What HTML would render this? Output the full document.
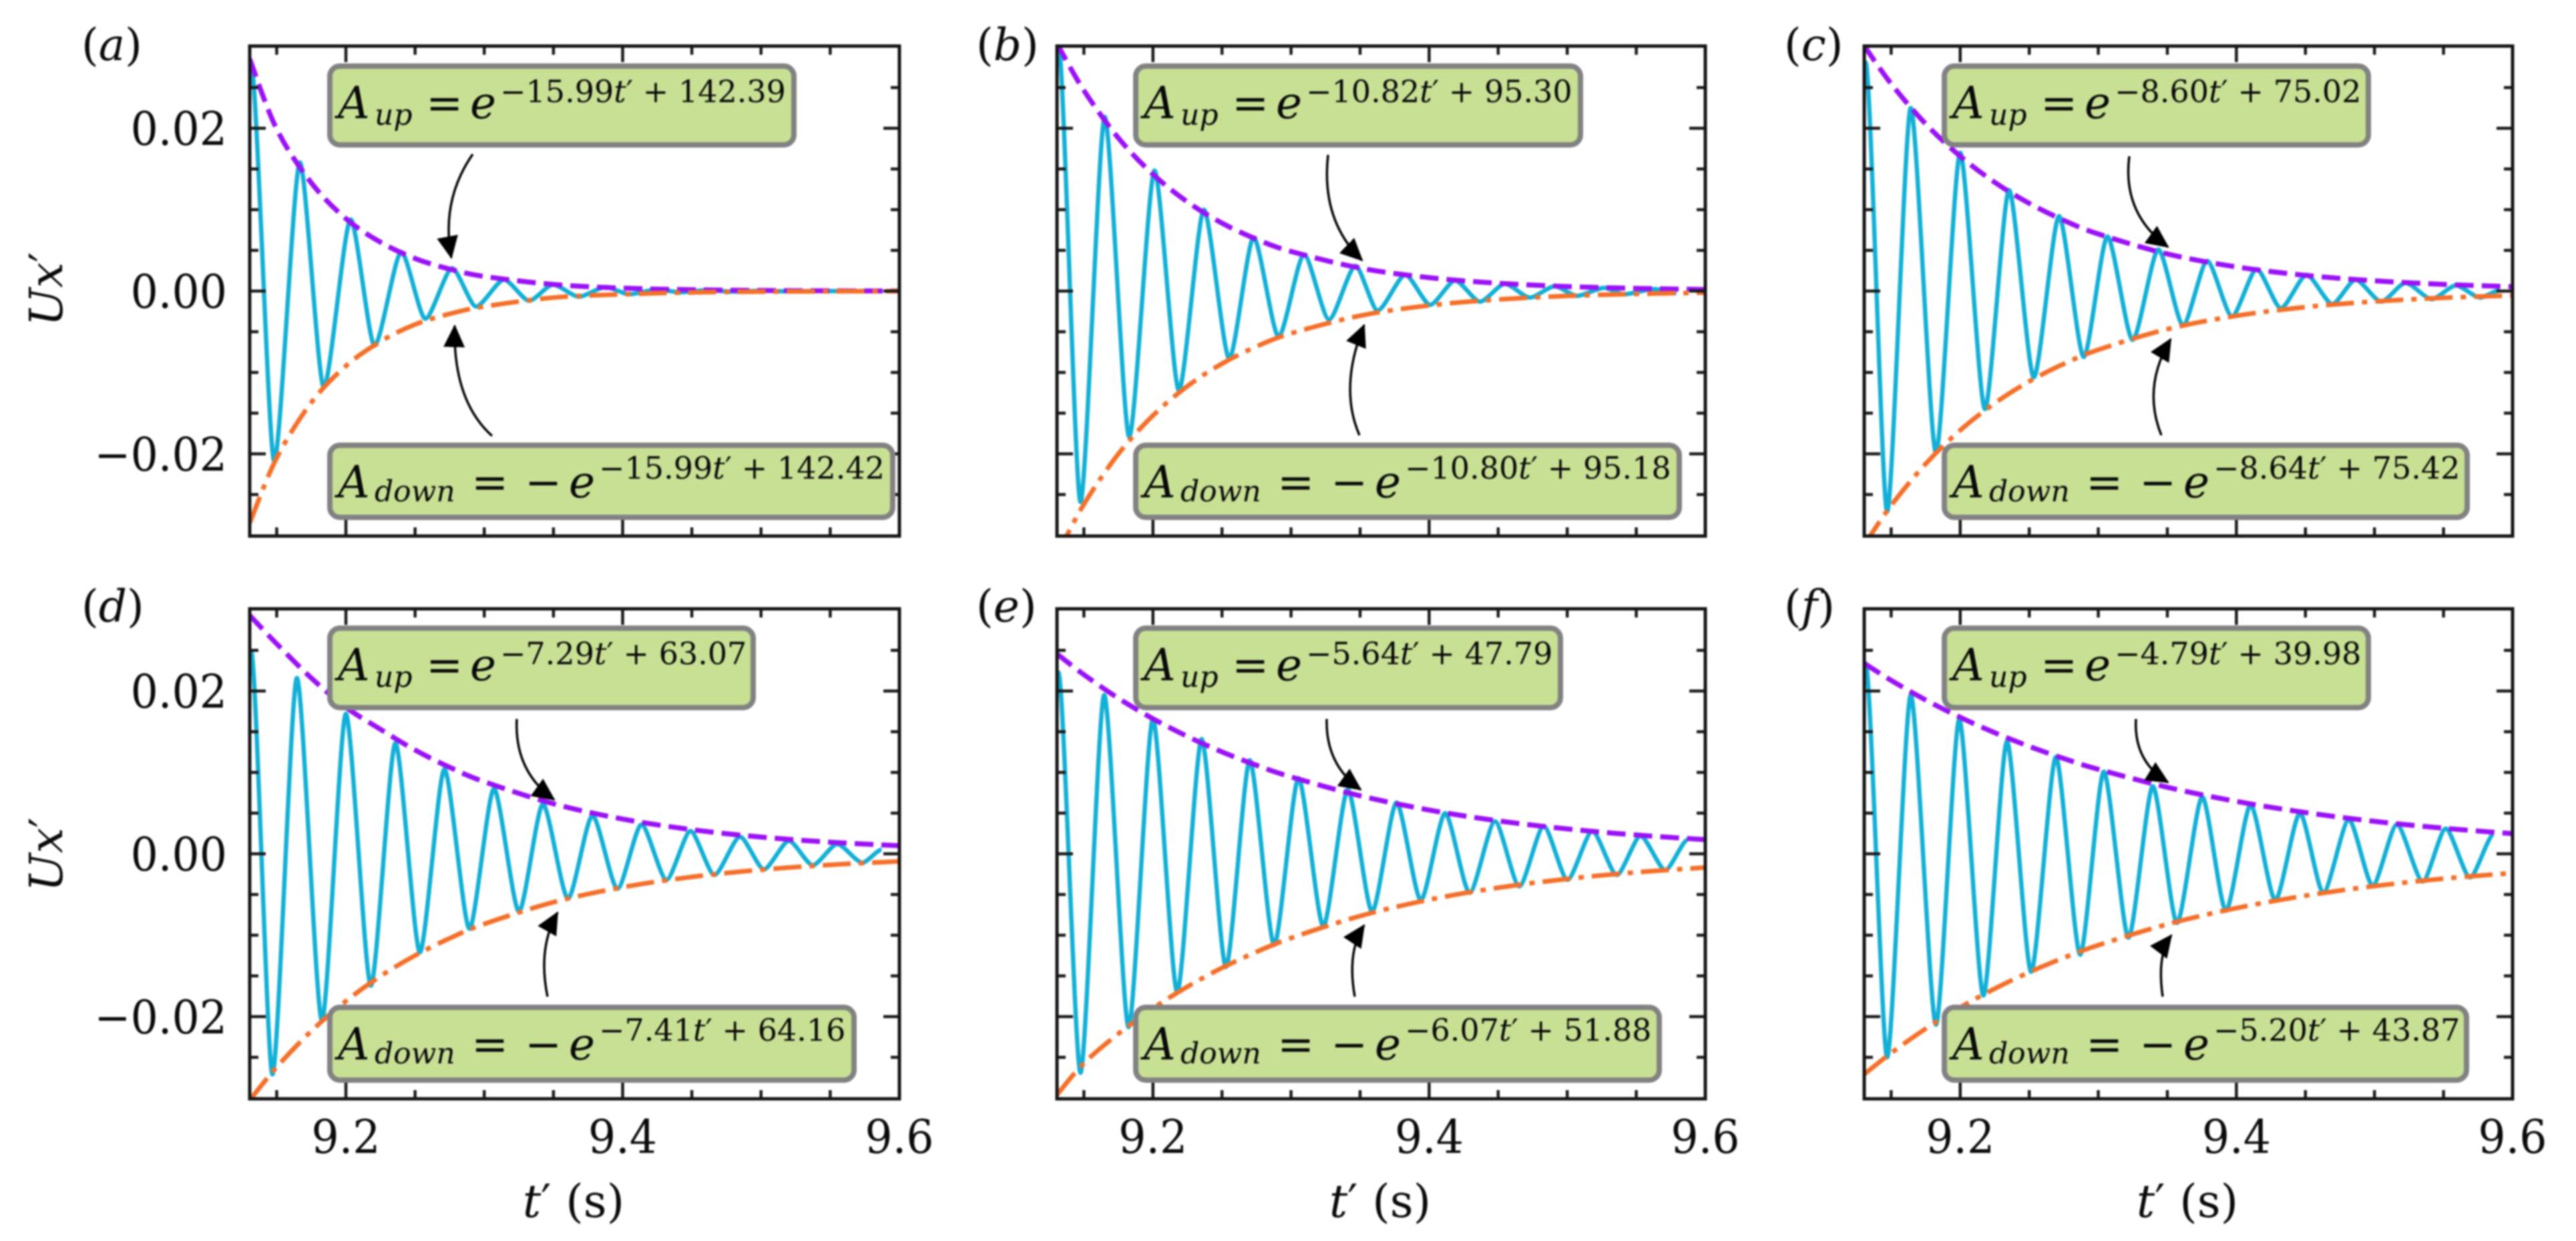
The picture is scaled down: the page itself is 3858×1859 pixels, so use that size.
<!DOCTYPE html>
<html lang="en">
<head>
<meta charset="utf-8">
<title>Decaying oscillation envelopes</title>
<style>
html,body{margin:0;padding:0;background:#fff;}
svg{display:block;filter:blur(1.3px);}
text{font-family:"DejaVu Serif","Liberation Serif",serif;fill:#0a0a0a;}
.m{font-size:66px;font-style:italic;}
.n{font-size:66px;}
.s{font-size:44px;font-style:italic;}
.x{font-size:46px;}
.xi{font-size:46px;font-style:italic;}
.pr{font-style:normal;}
.box{fill:#c8e094;stroke:#828282;stroke-width:8;}
.arrow{fill:none;stroke:#000;stroke-width:3.5;}
.plabel{font-size:66px;}
.it{font-style:italic;}
.atitle{font-size:68px;}
</style>
</head>
<body>
<svg id="figure" xmlns="http://www.w3.org/2000/svg" width="3858" height="1859" viewBox="0 0 3858 1859">
<defs>
<marker id="ah" markerUnits="userSpaceOnUse" markerWidth="40" markerHeight="40" refX="32" refY="20" orient="auto"><path d="M0,4 L34,20 L0,36 z" fill="#000"/></marker>
</defs>
<rect width="3858" height="1859" fill="#fff"/>

<g id="plot-a"></g>
<g id="plot-b"></g>
<g id="plot-c"></g>
<g id="plot-d"></g>
<g id="plot-e"></g>
<g id="plot-f"></g>

<!-- panel labels -->
<text class="plabel" x="122" y="90">(<tspan class="it">a</tspan>)</text>
<text class="plabel" x="1462" y="90">(<tspan class="it">b</tspan>)</text>
<text class="plabel" x="2672" y="90">(<tspan class="it">c</tspan>)</text>
<text class="plabel" x="122" y="931">(<tspan class="it">d</tspan>)</text>
<text class="plabel" x="1462" y="931">(<tspan class="it">e</tspan>)</text>
<text class="plabel" x="2672" y="931">(<tspan class="it">f</tspan>)</text>

<!-- axis titles -->
<text class="atitle it" transform="translate(93,433) rotate(-90)" text-anchor="middle">Ux<tspan class="pr">′</tspan></text>
<text class="atitle it" transform="translate(93,1280) rotate(-90)" text-anchor="middle">Ux<tspan class="pr">′</tspan></text>
<text class="atitle" x="859" y="1823" text-anchor="middle"><tspan class="it">t</tspan>′ (s)</text>
<text class="atitle" x="2067" y="1823" text-anchor="middle"><tspan class="it">t</tspan>′ (s)</text>
<text class="atitle" x="3276" y="1823" text-anchor="middle"><tspan class="it">t</tspan>′ (s)</text>

<!-- arrows -->
<path class="arrow" marker-end="url(#ah)" d="M708 231 Q660 300 676 386"/>
<path class="arrow" marker-end="url(#ah)" d="M737 653 Q678 600 681 488"/>
<path class="arrow" marker-end="url(#ah)" d="M1989 232 Q1978 330 2040 390"/>
<path class="arrow" marker-end="url(#ah)" d="M2036 652 Q2005 580 2043 487"/>
<path class="arrow" marker-end="url(#ah)" d="M3189 234 Q3178 320 3247 370"/>
<path class="arrow" marker-end="url(#ah)" d="M3237 652 Q3208 580 3251 508"/>
<path class="arrow" marker-end="url(#ah)" d="M774 1077 Q770 1155 830 1198"/>
<path class="arrow" marker-end="url(#ah)" d="M820 1493 Q805 1420 835 1367"/>
<path class="arrow" marker-end="url(#ah)" d="M1987 1077 Q1985 1145 2038 1183"/>
<path class="arrow" marker-end="url(#ah)" d="M2029 1493 Q2017 1425 2043 1386"/>
<path class="arrow" marker-end="url(#ah)" d="M3199 1077 Q3195 1140 3247 1172"/>
<path class="arrow" marker-end="url(#ah)" d="M3239 1493 Q3230 1430 3252 1401"/>

<!-- equation boxes: panel a -->
<g>
<rect class="box" x="494" y="99" width="695" height="118" rx="15"/>
<text y="177"><tspan class="m" x="506">A</tspan><tspan class="s" x="561" dy="10">up</tspan><tspan class="n" x="638" dy="-10">=</tspan><tspan class="m" x="704">e</tspan><tspan class="x" x="749" dy="-24">−15.99</tspan><tspan class="xi">t<tspan class="pr">′</tspan></tspan><tspan class="x"> + 142.39</tspan></text>
</g>
<g>
<rect class="box" x="494" y="667" width="843" height="108" rx="15"/>
<text y="745"><tspan class="m" x="506">A</tspan><tspan class="s" x="561" dy="6">down</tspan><tspan class="n" x="706" dy="-6">=</tspan><tspan class="n" x="786">−</tspan><tspan class="m" x="852">e</tspan><tspan class="x" x="897" dy="-28">−15.99</tspan><tspan class="xi">t<tspan class="pr">′</tspan></tspan><tspan class="x"> + 142.42</tspan></text>
</g>
<!-- panel b -->
<g>
<rect class="box" x="1701" y="99" width="666" height="118" rx="15"/>
<text y="177"><tspan class="m" x="1713">A</tspan><tspan class="s" x="1768" dy="10">up</tspan><tspan class="n" x="1845" dy="-10">=</tspan><tspan class="m" x="1911">e</tspan><tspan class="x" x="1956" dy="-24">−10.82</tspan><tspan class="xi">t<tspan class="pr">′</tspan></tspan><tspan class="x"> + 95.30</tspan></text>
</g>
<g>
<rect class="box" x="1701" y="667" width="814" height="108" rx="15"/>
<text y="745"><tspan class="m" x="1713">A</tspan><tspan class="s" x="1768" dy="6">down</tspan><tspan class="n" x="1913" dy="-6">=</tspan><tspan class="n" x="1993">−</tspan><tspan class="m" x="2059">e</tspan><tspan class="x" x="2104" dy="-28">−10.80</tspan><tspan class="xi">t<tspan class="pr">′</tspan></tspan><tspan class="x"> + 95.18</tspan></text>
</g>
<!-- panel c -->
<g>
<rect class="box" x="2912" y="99" width="635" height="118" rx="15"/>
<text y="177"><tspan class="m" x="2924">A</tspan><tspan class="s" x="2979" dy="10">up</tspan><tspan class="n" x="3056" dy="-10">=</tspan><tspan class="m" x="3122">e</tspan><tspan class="x" x="3167" dy="-24">−8.60</tspan><tspan class="xi">t<tspan class="pr">′</tspan></tspan><tspan class="x"> + 75.02</tspan></text>
</g>
<g>
<rect class="box" x="2912" y="667" width="783" height="108" rx="15"/>
<text y="745"><tspan class="m" x="2924">A</tspan><tspan class="s" x="2979" dy="6">down</tspan><tspan class="n" x="3124" dy="-6">=</tspan><tspan class="n" x="3204">−</tspan><tspan class="m" x="3270">e</tspan><tspan class="x" x="3315" dy="-28">−8.64</tspan><tspan class="xi">t<tspan class="pr">′</tspan></tspan><tspan class="x"> + 75.42</tspan></text>
</g>
<!-- panel d -->
<g>
<rect class="box" x="494" y="941" width="634" height="119" rx="15"/>
<text y="1019"><tspan class="m" x="506">A</tspan><tspan class="s" x="561" dy="10">up</tspan><tspan class="n" x="638" dy="-10">=</tspan><tspan class="m" x="704">e</tspan><tspan class="x" x="749" dy="-24">−7.29</tspan><tspan class="xi">t<tspan class="pr">′</tspan></tspan><tspan class="x"> + 63.07</tspan></text>
</g>
<g>
<rect class="box" x="494" y="1509" width="785" height="109" rx="15"/>
<text y="1587"><tspan class="m" x="506">A</tspan><tspan class="s" x="561" dy="6">down</tspan><tspan class="n" x="706" dy="-6">=</tspan><tspan class="n" x="786">−</tspan><tspan class="m" x="852">e</tspan><tspan class="x" x="897" dy="-28">−7.41</tspan><tspan class="xi">t<tspan class="pr">′</tspan></tspan><tspan class="x"> + 64.16</tspan></text>
</g>
<!-- panel e -->
<g>
<rect class="box" x="1701" y="941" width="636" height="119" rx="15"/>
<text y="1019"><tspan class="m" x="1713">A</tspan><tspan class="s" x="1768" dy="10">up</tspan><tspan class="n" x="1845" dy="-10">=</tspan><tspan class="m" x="1911">e</tspan><tspan class="x" x="1956" dy="-24">−5.64</tspan><tspan class="xi">t<tspan class="pr">′</tspan></tspan><tspan class="x"> + 47.79</tspan></text>
</g>
<g>
<rect class="box" x="1701" y="1509" width="784" height="109" rx="15"/>
<text y="1587"><tspan class="m" x="1713">A</tspan><tspan class="s" x="1768" dy="6">down</tspan><tspan class="n" x="1913" dy="-6">=</tspan><tspan class="n" x="1993">−</tspan><tspan class="m" x="2059">e</tspan><tspan class="x" x="2104" dy="-28">−6.07</tspan><tspan class="xi">t<tspan class="pr">′</tspan></tspan><tspan class="x"> + 51.88</tspan></text>
</g>
<!-- panel f -->
<g>
<rect class="box" x="2912" y="941" width="635" height="119" rx="15"/>
<text y="1019"><tspan class="m" x="2924">A</tspan><tspan class="s" x="2979" dy="10">up</tspan><tspan class="n" x="3056" dy="-10">=</tspan><tspan class="m" x="3122">e</tspan><tspan class="x" x="3167" dy="-24">−4.79</tspan><tspan class="xi">t<tspan class="pr">′</tspan></tspan><tspan class="x"> + 39.98</tspan></text>
</g>
<g>
<rect class="box" x="2912" y="1509" width="782" height="109" rx="15"/>
<text y="1587"><tspan class="m" x="2924">A</tspan><tspan class="s" x="2979" dy="6">down</tspan><tspan class="n" x="3124" dy="-6">=</tspan><tspan class="n" x="3204">−</tspan><tspan class="m" x="3270">e</tspan><tspan class="x" x="3315" dy="-28">−5.20</tspan><tspan class="xi">t<tspan class="pr">′</tspan></tspan><tspan class="x"> + 43.87</tspan></text>
</g>
</svg>
<script>
// ---- tick values and labels ----
const xMajorTicks = [9.2, 9.4, 9.6];
const xMajorLabels = ["9.2", "9.4", "9.6"];
const xMinorTicks = [9.15, 9.25, 9.3, 9.35, 9.45, 9.5, 9.55];
const yMajorTicks = [0.02, 0, -0.02];
const yMajorLabels = ["0.02", "0.00", "−0.02"];
const yMinorTicks = [0.025, 0.015, 0.01, 0.005, -0.005, -0.01, -0.015, -0.025];

// ---- axis limits ----
const xLimits = [9.1305, 9.6];
const yLimits = [-0.0301, 0.0301];

// ---- envelope sample times (shared) ----
const envTimes = [9.1305, 9.15, 9.175, 9.2, 9.225, 9.25, 9.275, 9.3, 9.35, 9.4, 9.45, 9.5, 9.55, 9.6];

// ---- panel (a) ----
const envUpA = [0.0285, 0.0199, 0.0133, 0.0089, 0.0060, 0.0040, 0.0027, 0.0018, 0.00081, 0.00036, 0.00016, 0.00007, 0.00003, 0.00001];
const envDownA = [-0.0285, -0.0205, -0.0137, -0.0092, -0.0062, -0.0041, -0.0028, -0.0019, -0.0008, -0.0004, -0.00016, -0.00007, -0.00003, -0.00001];
const oscTimesA = [9.1315, 9.1482, 9.1668, 9.184, 9.2035, 9.2207, 9.2401, 9.2574, 9.2768, 9.2941, 9.3143, 9.3325, 9.3497, 9.3683, 9.3877, 9.405, 9.4244, 9.442, 9.46, 9.48, 9.5, 9.52, 9.54, 9.56, 9.58];
const oscValuesA = [0.0278, -0.0209, 0.0158, -0.0118, 0.0088, -0.0067, 0.0048, -0.0034, 0.0028, -0.0019, 0.0014, -0.0012, 0.0008, -0.0007, 0.0005, -0.0004, 0.0002, -0.00015, 0.0001, -0.00006, 0.00004, -0.00003, 0.00002, -0.00001, 0.00001];

// ---- panel (b) ----
const envUpB = [0.0304, 0.02465, 0.0188, 0.01435, 0.01095, 0.00835, 0.00637, 0.00486, 0.00283, 0.00165, 0.00096, 0.00056, 0.00033, 0.00019];
const envDownB = [-0.0324, -0.0262, -0.02, -0.0153, -0.01168, -0.00892, -0.00681, -0.0052, -0.00303, -0.00177, -0.00103, -0.0006, -0.00035, -0.0002];
const oscTimesB = [9.1315, 9.1475, 9.1651, 9.1828, 9.2012, 9.2188, 9.2369, 9.2553, 9.2729, 9.291, 9.3094, 9.3275, 9.3467, 9.3627, 9.3828, 9.4008, 9.4188, 9.4369, 9.4549, 9.473, 9.491, 9.507, 9.527, 9.541, 9.563, 9.579];
const oscValuesB = [0.0305, -0.0259, 0.0214, -0.0179, 0.0148, -0.0122, 0.01, -0.0083, 0.0066, -0.0056, 0.0045, -0.0035, 0.0031, -0.0024, 0.002, -0.0017, 0.0013, -0.0013, 0.0009, -0.0008, 0.0006, -0.0006, 0.0004, -0.0004, 0.00025, -0.00025];

// ---- panel (c) ----
const envUpC = [0.03012, 0.02547, 0.02054, 0.01657, 0.01336, 0.01078, 0.00869, 0.00701, 0.00456, 0.00297, 0.00193, 0.00126, 0.00082, 0.00053];
const envDownC = [-0.03118, -0.02634, -0.02123, -0.0171, -0.01378, -0.0111, -0.00895, -0.00721, -0.00468, -0.00304, -0.00197, -0.00128, -0.00083, -0.00054];
const oscTimesC = [9.1315, 9.1471, 9.1642, 9.1825, 9.2, 9.2179, 9.2354, 9.2533, 9.2716, 9.2895, 9.3066, 9.3249, 9.3435, 9.3614, 9.3789, 9.3968, 9.4147, 9.4322, 9.4509, 9.4695, 9.4863, 9.5049, 9.5225, 9.5415, 9.559, 9.5765, 9.5907];
const oscValuesC = [0.0281, -0.0271, 0.0225, -0.0199, 0.017, -0.0145, 0.0124, -0.0106, 0.0092, -0.0081, 0.0067, -0.006, 0.0051, -0.0042, 0.0037, -0.0031, 0.0027, -0.0021, 0.002, -0.0016, 0.0014, -0.0013, 0.001, -0.001, 0.0007, -0.0008, 0.0001];

// ---- panel (d) ----
const envUpD = [0.0293, 0.0258, 0.0216, 0.018, 0.0153, 0.01275, 0.01063, 0.00886, 0.00615, 0.00427, 0.00297, 0.00206, 0.00143, 0.00099];
const envDownD = [-0.03027, -0.0262, -0.02177, -0.01809, -0.01503, -0.01249, -0.01038, -0.00862, -0.00595, -0.00411, -0.00284, -0.00196, -0.00135, -0.00093];
const oscTimesD = [9.1315, 9.1469, 9.1646, 9.1827, 9.2, 9.2181, 9.2358, 9.2535, 9.2712, 9.2893, 9.307, 9.3251, 9.3424, 9.3605, 9.3782, 9.3963, 9.4136, 9.4317, 9.449, 9.4663, 9.4848, 9.5021, 9.5202, 9.5374, 9.5551, 9.5733, 9.5871];
const oscValuesD = [0.0249, -0.0271, 0.0216, -0.0205, 0.0172, -0.0162, 0.0136, -0.0121, 0.0104, -0.0092, 0.008, -0.0071, 0.0061, -0.0055, 0.0047, -0.0043, 0.0036, -0.0032, 0.0028, -0.0026, 0.0021, -0.0019, 0.0016, -0.0014, 0.0012, -0.0011, 0.0005];

// ---- panel (e) ----
const envUpE = [0.02457, 0.02201, 0.01911, 0.0166, 0.01442, 0.01252, 0.01088, 0.00945, 0.00713, 0.00538, 0.00405, 0.00306, 0.00231, 0.00174];
const envDownE = [-0.0296, -0.02572, -0.0221, -0.01899, -0.01632, -0.01402, -0.01205, -0.01035, -0.00764, -0.00564, -0.00417, -0.00308, -0.00227, -0.00168];
const oscTimesE = [9.1315, 9.1475, 9.1647, 9.1824, 9.2, 9.2176, 9.2353, 9.2529, 9.2701, 9.2878, 9.3054, 9.3234, 9.3411, 9.3587, 9.3764, 9.394, 9.4116, 9.4293, 9.4477, 9.4653, 9.483, 9.5002, 9.5182, 9.5359, 9.5531, 9.5711, 9.5872];
const oscValuesE = [0.0223, -0.0269, 0.0195, -0.0213, 0.0166, -0.017, 0.0141, -0.0139, 0.0115, -0.0112, 0.0093, -0.0089, 0.0079, -0.0071, 0.0063, -0.0057, 0.005, -0.0048, 0.004, -0.004, 0.0034, -0.0032, 0.0028, -0.0026, 0.0022, -0.002, 0.0017];

// ---- panel (f) ----
const envUpF = [0.0234, 0.02131, 0.0189, 0.01677, 0.01488, 0.0132, 0.01171, 0.01038, 0.00818, 0.00644, 0.00507, 0.00399, 0.00315, 0.00248];
const envDownF = [-0.02708, -0.02447, -0.02149, -0.01887, -0.01657, -0.01455, -0.01278, -0.01122, -0.00865, -0.00667, -0.00514, -0.00396, -0.00305, -0.00236];
const oscTimesF = [9.1315, 9.1471, 9.1642, 9.1825, 9.1993, 9.2168, 9.2339, 9.2514, 9.2693, 9.2869, 9.304, 9.3219, 9.3395, 9.357, 9.3753, 9.3924, 9.4103, 9.4282, 9.4461, 9.4629, 9.4815, 9.4987, 9.5162, 9.5349, 9.5516, 9.5692, 9.5864];
const oscValuesF = [0.0234, -0.025, 0.0195, -0.021, 0.0165, -0.0174, 0.0138, -0.0145, 0.0119, -0.0124, 0.0101, -0.0103, 0.0083, -0.0085, 0.007, -0.007, 0.006, -0.0057, 0.005, -0.0048, 0.0042, -0.0039, 0.0036, -0.0034, 0.0031, -0.0029, 0.0024];

// ---- drawing ----
const SVG_NS = "http://www.w3.org/2000/svg";
const TICK_MAJOR = 24, TICK_MINOR = 13;
const panelSeries = [
  { id: "a", col: 0, row: 0, t: oscTimesA, v: oscValuesA, up: envUpA, down: envDownA },
  { id: "b", col: 1, row: 0, t: oscTimesB, v: oscValuesB, up: envUpB, down: envDownB },
  { id: "c", col: 2, row: 0, t: oscTimesC, v: oscValuesC, up: envUpC, down: envDownC },
  { id: "d", col: 0, row: 1, t: oscTimesD, v: oscValuesD, up: envUpD, down: envDownD },
  { id: "e", col: 1, row: 1, t: oscTimesE, v: oscValuesE, up: envUpE, down: envDownE },
  { id: "f", col: 2, row: 1, t: oscTimesF, v: oscValuesF, up: envUpF, down: envDownF }
];
const colFrames = [[374, 1347], [1583, 2554], [2792, 3763]];
const rowFrames = [[69, 803], [912, 1646]];

function svgEl(tag, parent) {
  const el = document.createElementNS(SVG_NS, tag);
  parent.appendChild(el);
  return el;
}

function drawPanel(p) {
  const g = document.getElementById("plot-" + p.id);
  const [L, R] = colFrames[p.col];
  const [T, B] = rowFrames[p.row];
  const sx = t => L + (t - xLimits[0]) / (xLimits[1] - xLimits[0]) * (R - L);
  const sy = v => B - (v - yLimits[0]) / (yLimits[1] - yLimits[0]) * (B - T);

  // clip region
  const clip = svgEl("clipPath", g);
  clip.setAttribute("id", "clip-" + p.id);
  const clipRect = svgEl("rect", clip);
  clipRect.setAttribute("x", L);
  clipRect.setAttribute("y", T);
  clipRect.setAttribute("width", R - L);
  clipRect.setAttribute("height", B - T);

  // oscillation: smooth segments between successive extrema
  const xs = p.t.map(sx), ys = p.v.map(sy);
  let d = "M" + xs[0].toFixed(1) + " " + ys[0].toFixed(1);
  for (let i = 1; i < xs.length; i++) {
    const dx = (xs[i] - xs[i - 1]) * 0.24;
    d += " C" + (xs[i - 1] + dx).toFixed(1) + " " + ys[i - 1].toFixed(1) + " " + (xs[i] - dx).toFixed(1) + " " + ys[i].toFixed(1) + " " + xs[i].toFixed(1) + " " + ys[i].toFixed(1);
  }
  const osc = svgEl("path", g);
  
  
  osc.setAttribute("d", d);
  osc.setAttribute("fill", "none");
  osc.setAttribute("stroke", "#12afd6");
  osc.setAttribute("stroke-width", "6.5");
  osc.setAttribute("stroke-linejoin", "round");
  osc.setAttribute("clip-path", "url(#clip-" + p.id + ")");

  // envelopes
  const curve = vals => {
    const px = envTimes.map(sx), py = vals.map(sy);
    let s = "M" + px[0].toFixed(1) + " " + py[0].toFixed(1);
    for (let i = 0; i < px.length - 1; i++) {
      const a = Math.max(i - 1, 0), b = Math.min(i + 2, px.length - 1);
      const c1x = px[i] + (px[i + 1] - px[a]) / 6, c1y = py[i] + (py[i + 1] - py[a]) / 6;
      const c2x = px[i + 1] - (px[b] - px[i]) / 6, c2y = py[i + 1] - (py[b] - py[i]) / 6;
      s += " C" + c1x.toFixed(1) + " " + c1y.toFixed(1) + " " + c2x.toFixed(1) + " " + c2y.toFixed(1) + " " + px[i + 1].toFixed(1) + " " + py[i + 1].toFixed(1);
    }
    return s;
  };
  const envUp = svgEl("path", g);
  
  
  envUp.setAttribute("d", curve(p.up));
  envUp.setAttribute("fill", "none");
  envUp.setAttribute("stroke", "#9a12f5");
  envUp.setAttribute("stroke-width", "7.5");
  envUp.setAttribute("stroke-dasharray", "28 12");
  envUp.setAttribute("clip-path", "url(#clip-" + p.id + ")");

  const envDown = svgEl("path", g);
  
  
  envDown.setAttribute("d", curve(p.down));
  envDown.setAttribute("fill", "none");
  envDown.setAttribute("stroke", "#f4702a");
  envDown.setAttribute("stroke-width", "7");
  envDown.setAttribute("stroke-dasharray", "42 12 8 12");
  envDown.setAttribute("clip-path", "url(#clip-" + p.id + ")");

  // ticks
  const tick = (x1, y1, x2, y2, w, name) => {
    const ln = svgEl("line", g);
    
    
    ln.setAttribute("x1", x1);
    ln.setAttribute("y1", y1);
    ln.setAttribute("x2", x2);
    ln.setAttribute("y2", y2);
    ln.setAttribute("stroke", "#1a1a1a");
    ln.setAttribute("stroke-width", w);
  };
  xMajorTicks.forEach(v => {
    tick(sx(v), B, sx(v), B - TICK_MAJOR, 4.5, "x-major-tick");
    tick(sx(v), T, sx(v), T + TICK_MAJOR, 4.5, "x-major-tick-top");
  });
  xMinorTicks.forEach(v => {
    tick(sx(v), B, sx(v), B - TICK_MINOR, 4.5, "x-minor-tick");
    tick(sx(v), T, sx(v), T + TICK_MINOR, 4.5, "x-minor-tick-top");
  });
  yMajorTicks.forEach(v => {
    tick(L, sy(v), L + TICK_MAJOR, sy(v), 4.5, "y-major-tick");
    tick(R, sy(v), R - TICK_MAJOR, sy(v), 4.5, "y-major-tick-right");
  });
  yMinorTicks.forEach(v => {
    tick(L, sy(v), L + TICK_MINOR, sy(v), 4.5, "y-minor-tick");
    tick(R, sy(v), R - TICK_MINOR, sy(v), 4.5, "y-minor-tick-right");
  });

  // frame
  const frame = svgEl("rect", g);
  
  
  frame.setAttribute("x", L);
  frame.setAttribute("y", T);
  frame.setAttribute("width", R - L);
  frame.setAttribute("height", B - T);
  frame.setAttribute("fill", "none");
  frame.setAttribute("stroke", "#151515");
  frame.setAttribute("stroke-width", "5");

  // tick labels
  if (p.col === 0) {
    yMajorTicks.forEach((v, i) => {
      const t = svgEl("text", g);
      
      
      t.setAttribute("text-anchor", "end");
      t.setAttribute("font-size", "69");
      t.setAttribute("transform", "translate(340," + (sy(v) + 25).toFixed(1) + ") scale(0.94,1)");
      t.textContent = yMajorLabels[i];
    });
  }
  if (p.row === 1) {
    xMajorTicks.forEach((v, i) => {
      const t = svgEl("text", g);
      
      
      t.setAttribute("text-anchor", "middle");
      t.setAttribute("font-size", "69");
      t.setAttribute("transform", "translate(" + sx(v).toFixed(1) + ",1727) scale(0.94,1)");
      t.textContent = xMajorLabels[i];
    });
  }
}

panelSeries.forEach(drawPanel);
</script>
</body>
</html>
